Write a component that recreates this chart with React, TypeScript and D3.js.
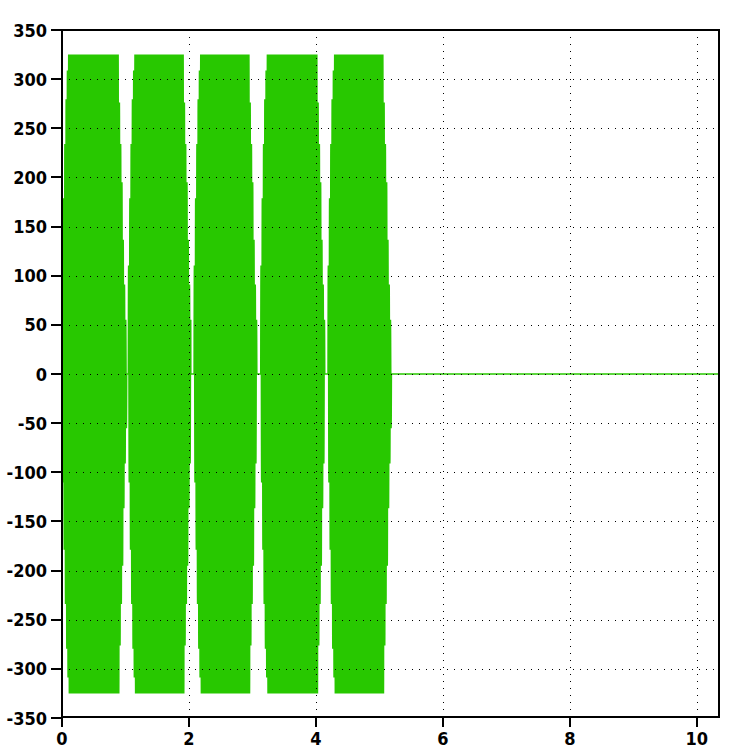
import { useMemo } from "react"
import * as d3 from "d3"

// tick values
const xTicks = [0, 2, 4, 6, 8, 10]
const yTicks = [-350, -300, -250, -200, -150, -100, -50, 0, 50, 100, 150, 200, 250, 300, 350]

const cycle = [0, 100, 191, 263, 309, 325, 309, 263, 191, 100, 0, -100, -191, -263, -309, -325, -309, -263, -191, -100]

// burst windows
const burstOn = [0.0, 1.044, 2.08, 3.13, 4.19]
const burstOff = [1.02, 2.03, 3.07, 4.14, 5.19]

// stair-step envelope at the burst edges (gain per cycle)
const rampUp = [0.34, 0.55, 0.72, 0.86, 0.95]
const rampDown = [0.17, 0.28, 0.42, 0.6, 0.72, 0.85] // last cycle first

const sampleStep = 0.001
const xEnd = 10.35

const width = 750
const height = 750
const margin = { left: 62, right: 31, top: 30, bottom: 33 }

const buildSignal = () => {
  const pts: [number, number][] = []
  burstOn.forEach((on, b) => {
    const off = burstOff[b]
    const n = Math.round((off - on) / sampleStep)
    const nCycles = Math.ceil(n / cycle.length)
    pts.push([on, 0])
    for (let i = 0; i < n; i++) {
      const c = Math.floor(i / cycle.length)
      const back = nCycles - 1 - c
      let gain = 1
      if (c < rampUp.length) gain = rampUp[c]
      else if (back < rampDown.length) gain = rampDown[back]
      pts.push([on + i * sampleStep, cycle[i % cycle.length] * gain])
    }
    pts.push([off, 0])
  })
  pts.push([xEnd, 0])
  return pts
}

export default function App() {
  const x = d3.scaleLinear().domain([0, xEnd]).range([margin.left, width - margin.right])
  const y = d3.scaleLinear().domain([-350, 350]).range([height - margin.bottom + 1, margin.top])

  const path = useMemo(() => {
    const line = d3
      .line<[number, number]>()
      .x((d) => x(d[0]))
      .y((d) => y(d[1]))
    return line(buildSignal()) || ""
  }, [])

  const x0 = margin.left
  const x1 = width - margin.right
  const y0 = margin.top
  const y1 = height - margin.bottom

  return (
    <svg
      width={width}
      height={height}
      style={{ position: "absolute", left: 0, top: 0, background: "#fff" }}
      fontFamily="'DejaVu Sans Condensed', 'DejaVu Sans', sans-serif"
      fontWeight="bold"
      fontSize={18}
      fontStretch="condensed"
    >
      <path d={path} fill="none" stroke="#28c800" strokeWidth={1.4} />

      {/* dotted grid */}
      <g stroke="#000" strokeWidth={1} strokeDasharray="1,6">
        {yTicks
          .filter((v) => v > -350 && v < 350)
          .map((v) => (
            <line key={"gy" + v} x1={x0} x2={x1} y1={Math.round(y(v)) + 0.5} y2={Math.round(y(v)) + 0.5} />
          ))}
        {xTicks
          .filter((v) => v > 0)
          .map((v) => (
            <line key={"gx" + v} x1={Math.round(x(v)) + 0.5} x2={Math.round(x(v)) + 0.5} y1={y1} y2={y0} />
          ))}
      </g>

      {/* frame */}
      <rect x={x0} y={y0} width={x1 - x0} height={y1 - y0} fill="none" stroke="#000" strokeWidth={2} />

      {/* y axis */}
      {yTicks.map((v) => (
        <g key={"ty" + v}>
          <line x1={x0 - 11} x2={x0} y1={Math.round(y(v))} y2={Math.round(y(v))} stroke="#000" strokeWidth={2} />
          <text x={x0 - 15} y={y(v) + 6.5} textAnchor="end">
            {v}
          </text>
        </g>
      ))}

      {/* x axis */}
      {xTicks.map((v) => (
        <g key={"tx" + v}>
          <line x1={Math.round(x(v))} x2={Math.round(x(v))} y1={y1} y2={y1 + 10} stroke="#000" strokeWidth={2} />
          <text x={x(v)} y={y1 + 28} textAnchor="middle">
            {v}
          </text>
        </g>
      ))}
    </svg>
  )
}
